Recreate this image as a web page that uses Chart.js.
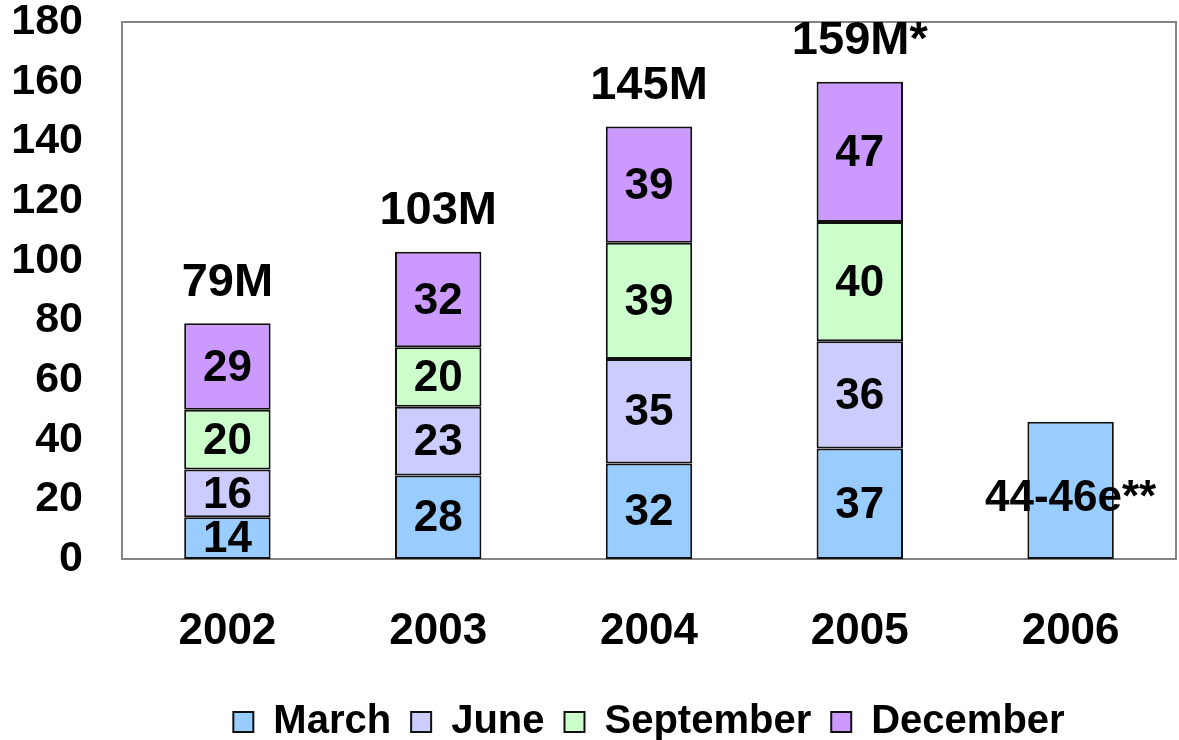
<!DOCTYPE html>
<html>
<head>
<meta charset="utf-8">
<script src="https://cdn.jsdelivr.net/npm/chart.js@4/dist/chart.umd.min.js"></script>
<style>
  html, body { margin:0; padding:0; background:#fff; overflow:hidden; }
  #wrap { width:1179px; height:740px; position:relative; }
</style>
</head>
<body>
<div id="wrap"><canvas id="quarterChart"></canvas></div>
<script>
// values (millions)
const years = ['2002','2003','2004','2005','2006'];
const march = [14, 28, 32, 37, 46];
const june = [16, 23, 35, 36, null];
const september = [20, 20, 39, 40, null];
const december = [29, 32, 39, 47, null];
const totalLabels = ['79M','103M','145M','159M*',''];
const marchNotes = [null, null, null, null, '44-46e**'];
const yTicks = [0,20,40,60,80,100,120,140,160,180];

const FONT = '"Liberation Sans", Arial, sans-serif';

// grey frame round the plot area
const frame = {
  id:'frame',
  beforeDatasetsDraw(chart){
    const a = chart.chartArea, c = chart.ctx;
    c.save();
    c.strokeStyle = '#858585';
    c.lineWidth = 2;
    c.strokeRect(a.left, a.top, a.right-a.left, a.bottom-a.top);
    c.restore();
  }
};

// numbers inside segments + totals above stacks
const barText = {
  id:'barText',
  afterDatasetsDraw(chart){
    const c = chart.ctx;
    c.save();
    c.fillStyle = '#000';
    c.textAlign = 'center';
    c.textBaseline = 'middle';
    c.font = 'bold 44px ' + FONT;
    chart.data.datasets.forEach((ds, di)=>{
      const meta = chart.getDatasetMeta(di);
      meta.data.forEach((el, i)=>{
        const v = ds.data[i];
        if(v == null) return;
        let txt = String(v);
        let yy = (el.y + el.base)/2 + 2;
        if(di === 0 && marchNotes[i]){ txt = marchNotes[i]; yy += 6; }
        c.fillText(txt, el.x, yy);
      });
    });
    // totals
    c.font = 'bold 47px ' + FONT;
    c.textBaseline = 'bottom';
    years.forEach((y, i)=>{
      if(!totalLabels[i]) return;
      let top = Infinity, x = 0;
      chart.data.datasets.forEach((ds, di)=>{
        if(ds.data[i] == null) return;
        const el = chart.getDatasetMeta(di).data[i];
        if(el.y < top){ top = el.y; x = el.x; }
      });
      c.fillText(totalLabels[i], x, top - 17);
    });
    c.restore();
  }
};

const ctx = document.getElementById('quarterChart');
new Chart(ctx.getContext('2d'), {
  type:'bar',
  data:{
    labels: years,
    datasets:[
      { label:'March', data: march, backgroundColor:'#99CCFF' },
      { label:'June', data: june, backgroundColor:'#CCCCFF' },
      { label:'September', data: september, backgroundColor:'#CCFFCC' },
      { label:'December', data: december, backgroundColor:'#CC99FF' }
    ].map(d => Object.assign(d, {
      borderColor:'#111', borderWidth:2, borderSkipped:false,
      barPercentage:0.41, categoryPercentage:1.0
    }))
  },
  options:{
    responsive:true,
    maintainAspectRatio:false,
    animation:false,
    layout:{ padding:{ top:0, right:3, left:0, bottom:-12 } },
    scales:{
      x:{
        stacked:true,
        grid:{ display:false },
        border:{ display:false },
        ticks:{ color:'#000', padding:43, font:{ family:FONT, size:44, weight:'bold', lineHeight:1 } },
        afterFit(s){ s.height = 123; }
      },
      y:{
        stacked:true,
        min:0, max:180,
        grid:{ display:false },
        border:{ display:false },
        afterBuildTicks(s){ s.ticks = yTicks.map(v => ({ value:v })); },
        ticks:{ color:'#000', padding:31, font:{ family:FONT, size:43, weight:'bold', lineHeight:1 } },
        afterFit(s){ s.width = 122; s.paddingTop = 22; s.paddingBottom = 0; }
      }
    },
    plugins:{
      legend:{
        position:'bottom',
        fullSize:false,
        labels:{
          color:'#000',
          boxWidth:20, boxHeight:20,
          padding:20,
          font:{ family:FONT, size:40, weight:'bold' }
        }
      },
      tooltip:{ enabled:false }
    }
  },
  plugins:[frame, barText]
});
</script>
</body>
</html>
